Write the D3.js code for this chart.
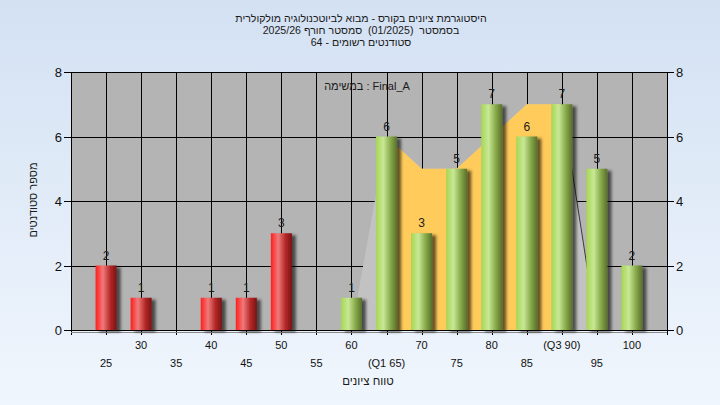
<!DOCTYPE html>
<html><head><meta charset="utf-8">
<script src="https://cdn.jsdelivr.net/npm/d3@7"></script>
<style>body{margin:0;background:#fff}svg{display:block}text.pre{white-space:pre}</style>
</head><body>
<svg id="c" width="720" height="405"></svg>
<script>
const categories = [25,30,35,40,45,50,55,60,65,70,75,80,85,90,95,100];
const counts = [2,1,0,1,1,3,0,1,6,3,5,7,6,7,5,2];
const tickLabels = ["25","30","35","40","45","50","55","60","(Q1 65)","70","75","80","85","(Q3 90)","95","100"];
const passMark = 55;
const areaCats = [60,65,70,75,80,85,90,95];
const areaVals = [0,6,5,5,6,7,7,0];
const q1 = 65, q3 = 90;
const yTicks = [0,2,4,6,8];
const titleLines = ["היסטוגרמת ציונים בקורס - מבוא לביוטכנולוגיה מולקולרית",
                    "בסמסטר  (01/2025)  סמסטר חורף 2025/26",
                    "סטודנטים רשומים - 64"];
const seriesName = "במשימה : Final_A";
const xTitle = "טווח ציונים";
const yTitle = "מספר סטודנטים";

const FONT = "'Liberation Sans','DejaVu Sans',Arial,sans-serif";
const L = 71, R = 667, T = 72, B = 330;
const svg = d3.select("#c");
const defs = svg.append("defs");

const bg = defs.append("linearGradient").attr("id","bg").attr("x1",0).attr("y1",0).attr("x2",0).attr("y2",1);
bg.append("stop").attr("offset","0%").attr("stop-color","#d3e1f3");
bg.append("stop").attr("offset","100%").attr("stop-color","#f0f6fd");

function barGrad(id, c0, c1, c2, c3){
  const g = defs.append("linearGradient").attr("id",id).attr("x1",0).attr("y1",0).attr("x2",1).attr("y2",0);
  g.append("stop").attr("offset","0%").attr("stop-color",c0);
  g.append("stop").attr("offset","35%").attr("stop-color",c1);
  g.append("stop").attr("offset","70%").attr("stop-color",c2);
  g.append("stop").attr("offset","100%").attr("stop-color",c3);
}
barGrad("gRed","#ff1e1e","#f07a7a","#b42828","#7a1212");
barGrad("gGreen","#a6d652","#c8e896","#86a848","#586f2c");

const f = defs.append("filter").attr("id","sh").attr("x","-20%").attr("y","-10%").attr("width","160%").attr("height","130%");
f.append("feDropShadow").attr("dx",4).attr("dy",2).attr("stdDeviation",1.6)
  .attr("flood-color","#000").attr("flood-opacity",0.6);

svg.append("rect").attr("width",720).attr("height",405).attr("fill","url(#bg)");

const x = d3.scaleBand().domain(categories).range([L,R]).paddingInner(0.4).paddingOuter(0.7);
const cx = c => x(c) + x.bandwidth()/2;
const y = d3.scaleLinear().domain([0,8]).range([B,T]);

// plot background
svg.append("rect").attr("x",L).attr("y",T).attr("width",R-L).attr("height",B-T).attr("fill","#b4b4b4");

// grid
const grid = svg.append("g").attr("stroke","#000").attr("stroke-width",1).attr("shape-rendering","crispEdges");
grid.selectAll("line.h").data(yTicks).join("line").attr("class","h")
  .attr("x1",L-7).attr("x2",R+7).attr("y1",d=>Math.round(y(d))+0.5).attr("y2",d=>Math.round(y(d))+0.5);
grid.selectAll("line.v").data(categories).join("line").attr("class","v")
  .attr("x1",d=>Math.round(cx(d))+0.5).attr("x2",d=>Math.round(cx(d))+0.5).attr("y1",T).attr("y2",B+5);

// areas
const aData = areaCats.map((c,i)=>({c, v:areaVals[i]}));
const area = d3.area().x(d=>cx(d.c)).y0(y(0)).y1(d=>y(d.v));
svg.append("path").attr("d",area(aData)).attr("fill","#c2c2c2");
defs.append("clipPath").attr("id","iqr").append("rect")
  .attr("x",cx(q1)).attr("y",T).attr("width",cx(q3)-cx(q1)).attr("height",B-T);
svg.append("path").attr("d",area(aData)).attr("fill","#ffcb5a").attr("clip-path","url(#iqr)");
const tail = aData.filter(d=>d.c>=q3);
svg.append("path").attr("d",d3.line().x(d=>cx(d.c)).y(d=>y(d.v))(tail))
  .attr("fill","none").attr("stroke","#3a3a3a").attr("stroke-width",1);

// axes lines
const ax = svg.append("g").attr("stroke","#000").attr("shape-rendering","crispEdges");
ax.append("line").attr("x1",L+0.5).attr("x2",L+0.5).attr("y1",T).attr("y2",B+5);
ax.append("line").attr("x1",R+0.5).attr("x2",R+0.5).attr("y1",T).attr("y2",B+5);
svg.append("line").attr("x1",L).attr("x2",R).attr("y1",B+2.5).attr("y2",B+2.5).attr("stroke","#8a8a8a");

// bars
const data = categories.map((c,i)=>({c, v:counts[i]})).filter(d=>d.v>0);
svg.append("g").selectAll("rect").data(data).join("rect")
  .attr("x",d=>x(d.c)).attr("width",x.bandwidth())
  .attr("y",d=>y(d.v)).attr("height",d=>y(0)-y(d.v))
  .attr("fill",d=>d.c<passMark?"url(#gRed)":"url(#gGreen)")
  .attr("filter","url(#sh)");

// value labels
svg.append("g").selectAll("text").data(data).join("text")
  .attr("x",d=>cx(d.c)).attr("y",d=>y(d.v)-6).attr("text-anchor","middle")
  .attr("font-family",FONT).attr("font-size",12).attr("fill","#1c1c1c").text(d=>d.v);

// y tick labels
const yl = svg.append("g").attr("font-family",FONT).attr("font-size",13).attr("fill","#111");
yl.selectAll("text.l").data(yTicks).join("text").attr("class","l")
  .attr("x",L-9).attr("y",d=>y(d)+5).attr("text-anchor","end").text(d=>d);
yl.selectAll("text.r").data(yTicks).join("text").attr("class","r")
  .attr("x",R+9).attr("y",d=>y(d)+5).attr("text-anchor","start").text(d=>d);

// x tick labels, staggered
svg.append("g").attr("font-family",FONT).attr("font-size",11).attr("fill","#111")
  .selectAll("text").data(categories).join("text")
  .attr("x",d=>cx(d)).attr("y",(d,i)=> i%2===1 ? 348.5 : 366.5)
  .attr("text-anchor","middle").attr("direction","ltr").style("unicode-bidi","plaintext")
  .text((d,i)=>tickLabels[i]);

// titles
svg.append("g").attr("font-family",FONT).attr("font-size",10.6).attr("fill","#1a1a1a")
  .selectAll("text").data(titleLines).join("text")
  .attr("class","pre").attr("xml:space","preserve")
  .attr("x",361).attr("y",(d,i)=>21.5+i*12).attr("text-anchor","middle")
  .attr("direction","rtl").text(d=>d);

svg.append("text").attr("x",367).attr("y",89.5).attr("text-anchor","middle")
  .attr("font-family",FONT).attr("font-size",11).attr("fill","#1a1a1a")
  .attr("direction","ltr").text(seriesName);

svg.append("text").attr("x",368).attr("y",385).attr("text-anchor","middle")
  .attr("font-family",FONT).attr("font-size",11.5).attr("fill","#1a1a1a")
  .attr("direction","rtl").text(xTitle);

svg.append("text").attr("transform","translate(37,200) rotate(-90)").attr("text-anchor","middle")
  .attr("font-family",FONT).attr("font-size",11).attr("fill","#1a1a1a")
  .attr("direction","rtl").text(yTitle);
</script>
</body></html>
